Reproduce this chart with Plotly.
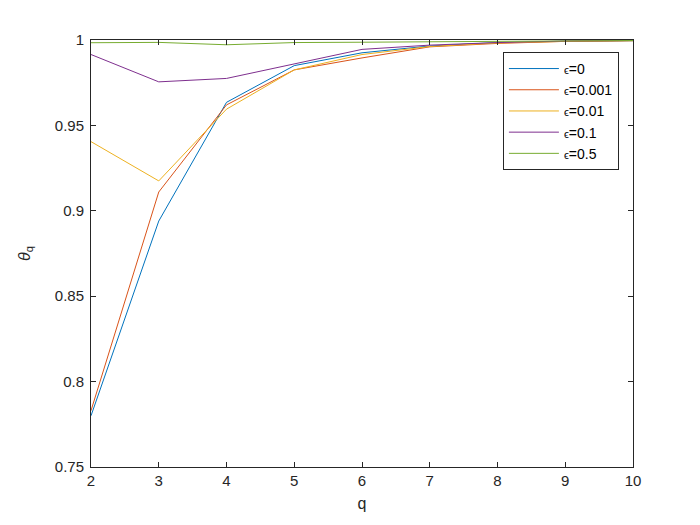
import plotly.graph_objects as go

q = [2, 3, 4, 5, 6, 7, 8, 9, 10]

# theta_q for each epsilon
theta_eps0 = [0.780, 0.894, 0.9635, 0.985, 0.9925, 0.9965, 0.9985, 0.9993, 0.9996]
theta_eps0001 = [0.783, 0.911, 0.962, 0.9825, 0.9895, 0.996, 0.998, 0.9992, 0.9996]
theta_eps001 = [0.9405, 0.9175, 0.9595, 0.9825, 0.9915, 0.9962, 0.9983, 0.9992, 0.9996]
theta_eps01 = [0.9915, 0.9755, 0.9775, 0.9858, 0.9945, 0.997, 0.9985, 0.9994, 0.9997]
theta_eps05 = [0.9984, 0.9986, 0.9972, 0.9985, 0.9987, 0.999, 0.9992, 0.9995, 0.9997]

eps_values = ["0", "0.001", "0.01", "0.1", "0.5"]
series = [theta_eps0, theta_eps0001, theta_eps001, theta_eps01, theta_eps05]
colors = ["#0072BD", "#D95319", "#EDB120", "#7E2F8E", "#77AC30"]

ytick_vals = [0.75, 0.8, 0.85, 0.9, 0.95, 1.0]
ytick_text = ["0.75", "0.8", "0.85", "0.9", "0.95", "1"]

font_family = "Liberation Sans, Arial"
ink = "#262626"

fig = go.Figure()
for eps, ys, c in zip(eps_values, series, colors):
    name = "<span style='font-size:11px'>ϵ</span>=" + eps
    fig.add_trace(go.Scatter(x=q, y=ys, mode="lines", name=name,
                             line=dict(color=c, width=1)))

axis_style = dict(showline=True, linecolor=ink, linewidth=1, mirror="ticks",
                  ticks="inside", ticklen=5, tickcolor=ink,
                  showgrid=False, zeroline=False,
                  tickfont=dict(family=font_family, size=15, color=ink))

fig.update_xaxes(range=[2, 10], tickvals=q,
                 title=dict(text="q", font=dict(family=font_family, size=16, color=ink),
                            standoff=9),
                 **axis_style)
fig.update_yaxes(range=[0.75, 1], tickvals=ytick_vals, ticktext=ytick_text,
                 ticklabelstandoff=3,
                 title=dict(text="<i>θ</i><sub>q</sub>", font=dict(family=font_family, size=16, color=ink),
                            standoff=20),
                 **axis_style)

# the page adds an 8px body margin, so the margins are shifted to compensate
fig.update_layout(
    width=700, height=525,
    paper_bgcolor="white", plot_bgcolor="white",
    margin=dict(l=83, r=75, t=32, b=66),
    font=dict(family=font_family, color=ink),
    legend=dict(x=0.760, y=0.972, xanchor="left", yanchor="top",
                bgcolor="white", bordercolor=ink, borderwidth=1,
                font=dict(size=14, color="black"),
                tracegroupgap=0, itemwidth=50),
    showlegend=True,
)

fig.write_html("out.html")
